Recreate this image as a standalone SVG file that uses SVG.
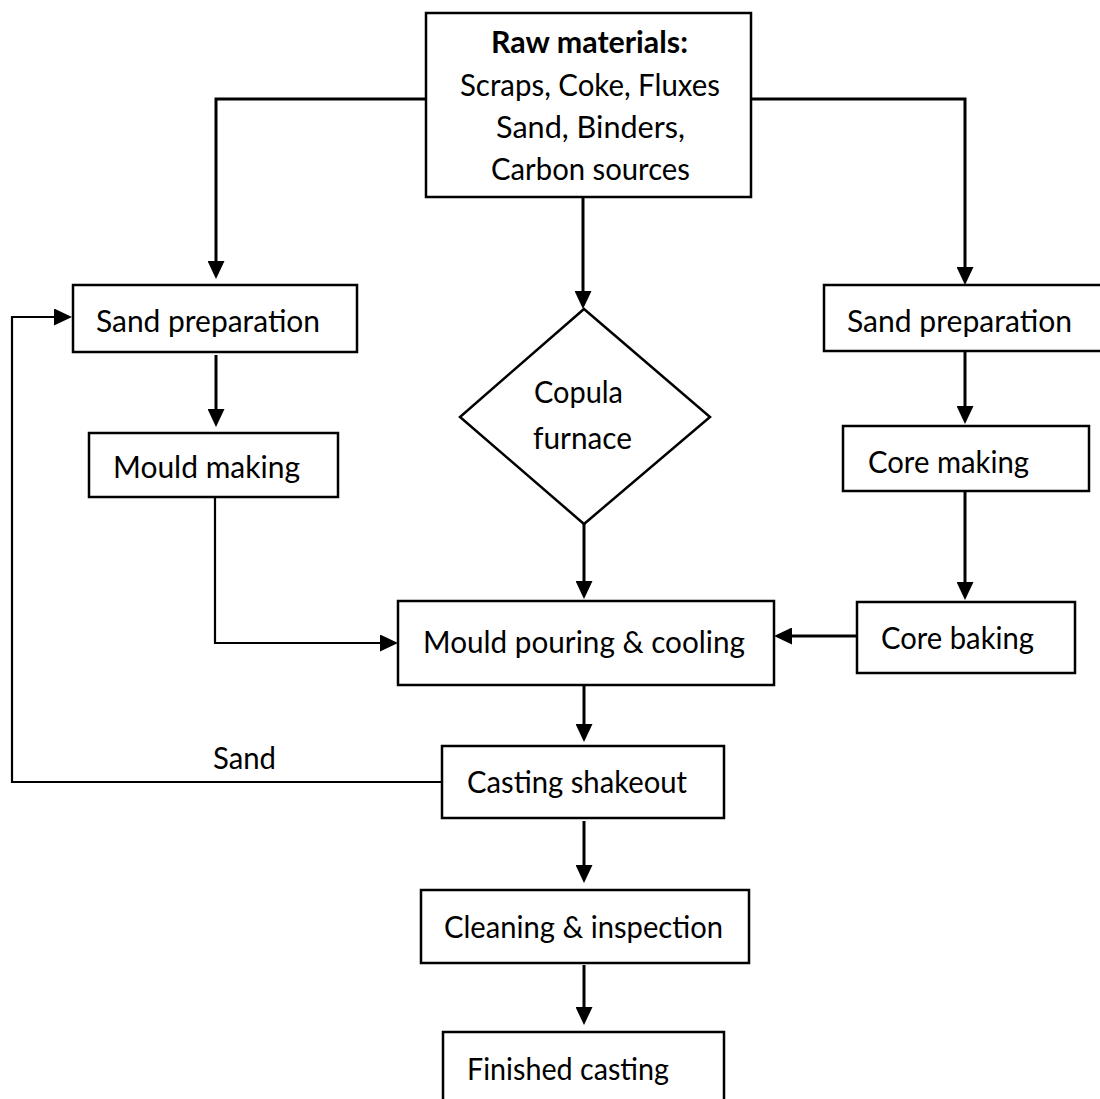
<svg xmlns="http://www.w3.org/2000/svg" width="1100" height="1099" viewBox="0 0 1100 1099">
<defs>
<style>
.box{fill:#fff;stroke:#000;stroke-width:2.5}
.t{font-family:Lato,"Liberation Sans",sans-serif;font-size:30px;fill:#000}
.b{font-weight:bold}
.c{fill:none;stroke:#000;stroke-width:3}
.thin{fill:none;stroke:#000;stroke-width:2.2}
</style>
<marker id="ah" markerWidth="18" markerHeight="17" refX="0" refY="8.5" orient="auto" markerUnits="userSpaceOnUse">
<path d="M0,0 L18,8.5 L0,17 z" fill="#000"/>
</marker>
</defs>
<rect width="1100" height="1099" fill="#fff"/>
<g id="connectors">
<polyline class="c" points="426,99 216,99 216,261" marker-end="url(#ah)"/>
<polyline class="c" points="751,99 965,99 965,267" marker-end="url(#ah)"/>
<line class="c" x1="583" y1="197" x2="583" y2="291" marker-end="url(#ah)"/>
<line class="c" x1="216" y1="355" x2="216" y2="409" marker-end="url(#ah)"/>
<polyline class="thin" points="215,497 215,643 380,643" marker-end="url(#ah)"/>
<line class="c" x1="584" y1="524" x2="584" y2="581" marker-end="url(#ah)"/>
<line class="c" x1="965" y1="352" x2="965" y2="406" marker-end="url(#ah)"/>
<line class="c" x1="965" y1="491" x2="965" y2="582" marker-end="url(#ah)"/>
<line class="c" x1="857" y1="636" x2="792" y2="636" marker-end="url(#ah)"/>
<line class="c" x1="584" y1="685" x2="584" y2="724" marker-end="url(#ah)"/>
<polyline class="thin" points="442,782 12,782 12,317 54,317" marker-end="url(#ah)"/>
<line class="c" x1="584" y1="821" x2="584" y2="865" marker-end="url(#ah)"/>
<line class="c" x1="584" y1="965" x2="584" y2="1007" marker-end="url(#ah)"/>
<text class="t" x="213" y="769" textLength="63" lengthAdjust="spacingAndGlyphs">Sand</text>
</g>
<g id="raw">
<rect class="box" x="426" y="13" width="325" height="184"/>
<text class="t b" x="491" y="53" textLength="197" lengthAdjust="spacingAndGlyphs">Raw materials:</text>
<text class="t" x="460" y="96" textLength="260" lengthAdjust="spacingAndGlyphs">Scraps, Coke, Fluxes</text>
<text class="t" x="496" y="138" textLength="189" lengthAdjust="spacingAndGlyphs">Sand, Binders,</text>
<text class="t" x="491" y="180" textLength="199" lengthAdjust="spacingAndGlyphs">Carbon sources</text>
</g>
<g id="sandprep-left">
<rect class="box" x="73" y="285" width="284" height="67"/>
<text class="t" x="96" y="332" textLength="224" lengthAdjust="spacingAndGlyphs">Sand preparation</text>
</g>
<g id="mould-making">
<rect class="box" x="89" y="433" width="249" height="64"/>
<text class="t" x="113" y="478" textLength="187" lengthAdjust="spacingAndGlyphs">Mould making</text>
</g>
<g id="furnace">
<polygon class="box" points="584,309 710,417 584,524 460,417"/>
<text class="t" x="534" y="403" textLength="89" lengthAdjust="spacingAndGlyphs">Copula</text>
<text class="t" x="533" y="449" textLength="99" lengthAdjust="spacingAndGlyphs">furnace</text>
</g>
<g id="sandprep-right">
<rect class="box" x="824" y="285" width="280" height="66"/>
<text class="t" x="847" y="332" textLength="225" lengthAdjust="spacingAndGlyphs">Sand preparation</text>
</g>
<g id="core-making">
<rect class="box" x="843" y="426" width="246" height="65"/>
<text class="t" x="868" y="473" textLength="161" lengthAdjust="spacingAndGlyphs">Core making</text>
</g>
<g id="core-baking">
<rect class="box" x="857" y="602" width="218" height="71"/>
<text class="t" x="881" y="649" textLength="153" lengthAdjust="spacingAndGlyphs">Core baking</text>
</g>
<g id="mould-pouring">
<rect class="box" x="398" y="601" width="376" height="84"/>
<text class="t" x="423" y="653" textLength="322" lengthAdjust="spacingAndGlyphs">Mould pouring &amp; cooling</text>
</g>
<g id="shakeout">
<rect class="box" x="442" y="746" width="282" height="72"/>
<text class="t" x="467" y="793" textLength="220" lengthAdjust="spacingAndGlyphs">Casting shakeout</text>
</g>
<g id="cleaning">
<rect class="box" x="421" y="890" width="328" height="73"/>
<text class="t" x="444" y="938" textLength="279" lengthAdjust="spacingAndGlyphs">Cleaning &amp; inspection</text>
</g>
<g id="finished">
<rect class="box" x="443" y="1032" width="281" height="80"/>
<text class="t" x="467" y="1080" textLength="202" lengthAdjust="spacingAndGlyphs">Finished casting</text>
</g>
</svg>
